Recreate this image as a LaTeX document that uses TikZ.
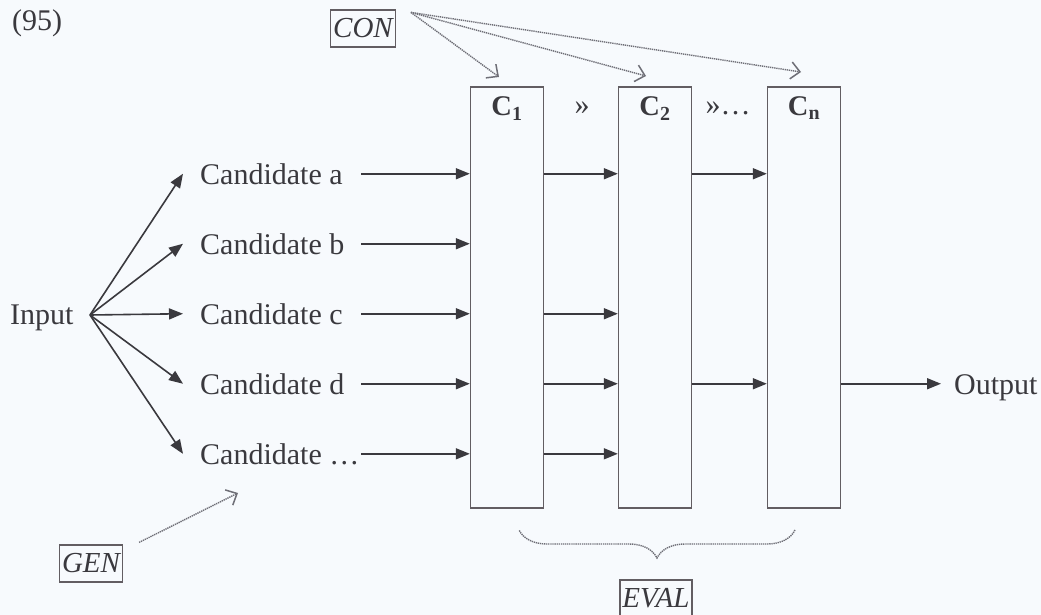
\documentclass[tikz,border=0pt]{standalone}
\usepackage{fontspec}
\setmainfont{Liberation Serif}
\usetikzlibrary{arrows.meta,decorations.pathreplacing,calc}
\definecolor{ink}{HTML}{3A393E}
\definecolor{frame}{HTML}{625D62}
\definecolor{dots}{HTML}{6E6E76}
\definecolor{paper}{HTML}{F7FAFD}
\begin{document}
\begin{tikzpicture}[x=1pt,y=-1pt,
  every node/.style={font=\fontsize{30}{36}\selectfont, text=ink},
  txt/.style={inner sep=0pt},
  head/.style={inner sep=0pt, font=\fontsize{28.5}{34}\selectfont\bfseries},
  tag/.style={draw=frame, line width=1.2pt, inner xsep=2.5pt, inner ysep=0pt,
    minimum height=37pt, font=\fontsize{29}{34}\selectfont\itshape},
  stage/.style={draw=frame, line width=1.4pt, minimum width=73pt,
    minimum height=421pt, inner sep=0pt},
  flow/.style={draw=ink, line width=1.6pt, -{Triangle[length=14pt,width=11pt]}},
  hint/.style={draw=dots, line width=1.4pt, dash pattern=on 1.3pt off 0.8pt,
    -{Straight Barb[length=9pt,width=17pt,line width=1.5pt]}},
  bracket/.style={draw=dots, line width=1.4pt, dash pattern=on 1.3pt off 0.8pt,
    decorate, decoration={brace, amplitude=28pt}},
]
\useasboundingbox (0,0) rectangle (1041,615);
\fill[paper] (0,0) rectangle (1041,615);

% example number and the constraint set
\node[txt, anchor=base west] (num) at (12,31) {(95)};
\node[tag] (con) at (363,28.5) {CON};

% input and the generated candidates
\node[txt, anchor=base west] (input) at (10,324) {Input};
\coordinate (fan) at (90,315);
\node[txt, anchor=base west] (ca) at (200,184) {Candidate a};
\node[txt, anchor=base west] (cb) at (200,254) {Candidate b};
\node[txt, anchor=base west] (cc) at (200,324) {Candidate c};
\node[txt, anchor=base west] (cd) at (200,394) {Candidate d};
\node[txt, anchor=base west] (ce) at (200,464) {Candidate …};

% ranked constraints
\node[stage] (c1) at (507,297.5) {};
\node[stage] (c2) at (655,297.5) {};
\node[stage] (cn) at (804,297.5) {};
\node[head] (c1lab) at ([yshift=-22pt]c1.north) {C\textsubscript{1}};
\node[head] (c2lab) at ([yshift=-22pt]c2.north) {C\textsubscript{2}};
\node[head] (cnlab) at ([yshift=-22pt]cn.north) {C\textsubscript{n}};
\node[txt] (rank1) at (582,108) {»};
\node[txt] (rank2) at (728,108) {»…};

\node[txt, anchor=base west] (out) at (954,394) {Output};

% GEN and EVAL
\node[tag] (gen) at (91,563.5) {GEN};
\node[tag] (eval) at (656,598.5) {EVAL};

% Input fans out to the candidates
\foreach \c in {ca,cb,cc,cd,ce}
  \draw[flow] (fan) -- ([xshift=-17pt]\c.west);

% candidates enter C1
\foreach \c in {ca,cb,cc,cd,ce}
  \draw[flow] ([xshift=161pt]\c.west) -- (\c.west -| c1.west);

% survivors of C1
\foreach \c in {ca,cc,cd,ce}
  \draw[flow] (\c.west -| c1.east) -- (\c.west -| c2.west);

% survivors of C2
\foreach \c in {ca,cd}
  \draw[flow] (\c.west -| c2.east) -- (\c.west -| cn.west);

% the optimal output
\draw[flow, shorten >=13pt] (cd.west -| cn.east) -- (cd.west -| out.west);

% CON supplies the constraints
\coordinate (t1) at (499,77);
\coordinate (t2) at (646,76);
\coordinate (tn) at (801,72);
\foreach \t in {t1,t2,tn}
  \draw[hint] ([shift={(15pt,-3pt)}]con.north east) -- (\t);

% GEN produces the candidates
\coordinate (gt) at (238,493);
\draw[hint] ([shift={(16pt,2pt)}]gen.north east) -- (gt);

% EVAL spans the constraint hierarchy
\draw[bracket] (795,530) -- (519,530);
\end{tikzpicture}
\end{document}
